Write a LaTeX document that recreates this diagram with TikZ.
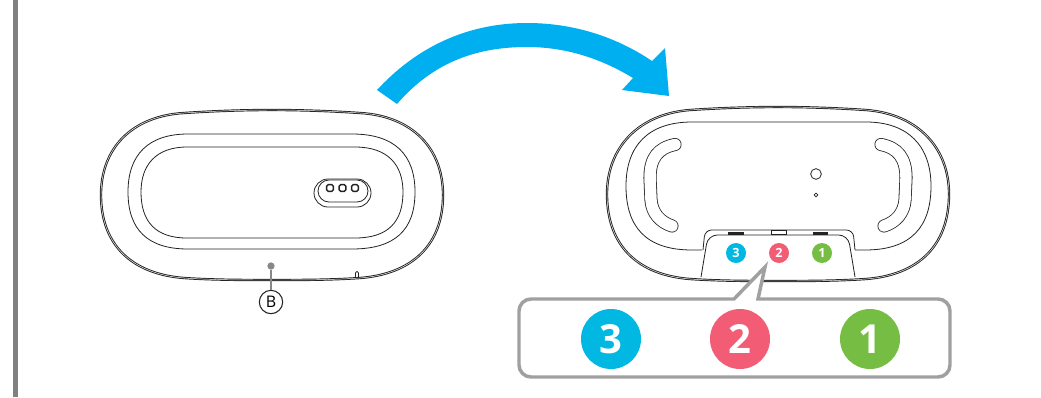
\documentclass[tikz,border=0pt]{standalone}
\usepackage{fontspec}
\setmainfont{Open Sans}
\usetikzlibrary{positioning}
\definecolor{arrowblue}{RGB}{0,175,240}
\definecolor{badgeblue}{RGB}{0,184,225}
\definecolor{badgepink}{RGB}{242,92,117}
\definecolor{badgegreen}{RGB}{118,190,67}
\definecolor{framegray}{RGB}{160,160,160}
\definecolor{bargray}{RGB}{128,128,128}
\definecolor{inkdark}{RGB}{35,35,35}

\begin{document}
\begin{tikzpicture}[
    x=0.75pt,y=-0.75pt,
    shell/.style={draw=inkdark,line width=0.7pt,double=white,double distance=0.35pt},
    ring/.style={draw=inkdark,line width=0.6pt},
    bigbadge/.style={circle,minimum size=45pt,inner sep=0pt,text=white,font=\fontsize{30}{30}\selectfont\bfseries},
    smallbadge/.style={circle,minimum size=15pt,inner sep=0pt,text=white,font=\fontsize{9.5}{10}\selectfont\bfseries},
    pin/.style={draw=inkdark,fill=white,line width=1.1pt,rounded corners=1.2pt,minimum size=5pt,inner sep=0pt},
    slot/.style={fill=inkdark,minimum height=1.6pt,minimum width=11.5pt,inner sep=0pt}
  ]
    \useasboundingbox (0,0) rectangle (1041,397);
    \fill[white] (0,0) rectangle (1041,397);
    \fill[bargray] (13,0) rectangle (18,397);

    % arrow
    \fill[arrowblue] (377,90) .. controls (425,38) and (480,23) .. (527,23)
      .. controls (572,23) and (615,36) .. (652,61) -- (665,48) -- (669,96) -- (622,90) -- (633,78)
      .. controls (600,58) and (565,47) .. (527,47)
      .. controls (480,47) and (435,60) .. (397,104) -- cycle;

    % left device
    \draw[shell] (272,110) .. controls (300,110) and (330,111) .. (360,113)
      .. controls (412,116) and (443,148) .. (443,195)
      .. controls (443,245) and (412,274) .. (360,278)
      .. controls (330,280) and (300,280) .. (272,280)
      .. controls (244,280) and (214,280) .. (184,278)
      .. controls (132,274) and (101,245) .. (101,195)
      .. controls (101,148) and (132,116) .. (184,113)
      .. controls (214,111) and (244,110) .. (272,110) -- cycle;
    \draw[ring] (188,134) -- (352,134) .. controls (395,134) and (415,155) .. (415,192)
      .. controls (415,230) and (395,249) .. (352,249) -- (188,249)
      .. controls (148,249) and (128,230) .. (128,192)
      .. controls (128,155) and (148,134) .. (188,134) -- cycle;
    \draw[ring] (187,147) -- (355,147) .. controls (388,147) and (403,165) .. (403,192)
      .. controls (403,222) and (388,238) .. (355,238) -- (187,238)
      .. controls (156,238) and (141,222) .. (141,192)
      .. controls (141,165) and (156,147) .. (187,147) -- cycle;
    \draw[ring] (328,179) -- (357,179) arc[start angle=-90,end angle=90,radius=14] -- (328,207) arc[start angle=90,end angle=270,radius=14] -- cycle;
    \draw[ring] (329,180) -- (357,180) arc[start angle=-90,end angle=90,radius=11] -- (329,202) arc[start angle=90,end angle=270,radius=11] -- cycle;
    \node[pin] (pina) at (330,188) {};
    \node[pin] (pinb) at (342.5,188) {};
    \node[pin] (pinc) at (355,188) {};
    \draw[ring,rounded corners=1pt] (355.5,278) -- (355.5,271.5) -- (358.5,271.5) -- (358.5,278);

    \node[circle,fill=framegray!85!black,minimum size=5.5pt,inner sep=0pt] (dotb) at (271,266) {};
    \node[circle,draw=inkdark,line width=0.8pt,minimum size=17.5pt,inner sep=0pt,font=\fontsize{12}{12}\selectfont] (labelb) at (271,302) {B};
    \draw[framegray!85!black,line width=1.1pt] (dotb) -- (labelb);

    % right device
    \draw[shell] (778,107) .. controls (806,107) and (836,108) .. (866,110)
      .. controls (918,114) and (949,148) .. (949,194)
      .. controls (949,246) and (918,275) .. (866,279)
      .. controls (836,281) and (806,281) .. (778,281)
      .. controls (750,281) and (720,281) .. (690,279)
      .. controls (638,275) and (607,246) .. (607,194)
      .. controls (607,148) and (638,114) .. (690,110)
      .. controls (720,108) and (750,107) .. (778,107) -- cycle;
    \draw[ring] (702,250) -- (692,250) .. controls (645,250) and (626,226) .. (626,186)
      .. controls (626,146) and (648,122) .. (692,122) -- (866,122)
      .. controls (908,122) and (931,146) .. (931,186)
      .. controls (931,226) and (912,250) .. (865,250) -- (855,250);

    % handles
    \foreach \sx in {1,-1} {
      \begin{scope}[shift={(778,0)},xscale=\sx]
        \draw[inkdark,line width=9.8pt,line cap=round] (-103,144.5) .. controls (-120,148) and (-128,158) .. (-128,178) -- (-127,200) .. controls (-126,213) and (-118,222) .. (-106,226);
        \draw[white,line width=8.6pt,line cap=round] (-103,144.5) .. controls (-120,148) and (-128,158) .. (-128,178) -- (-127,200) .. controls (-126,213) and (-118,222) .. (-106,226);
      \end{scope}
    }
    \node[circle,draw=inkdark,line width=0.6pt,minimum size=8pt,inner sep=0pt] (lens) at (816,174) {};
    \node[circle,draw=inkdark,line width=0.6pt,minimum size=2.8pt,inner sep=0pt] (micro) at (816,195) {};

    % socket
    \draw[ring,fill=white,rounded corners=5pt] (703,250) -- (705,230) -- (853,230) -- (855,250);
    \draw[ring,rounded corners=7pt] (701,277) -- (708,235) -- (848,235) -- (855,277);
    \node[slot] (slotl) at (736,233.5) {};
    \node[slot] (slotr) at (820.5,233.5) {};
    \node[draw=inkdark,fill=white,line width=0.5pt,minimum width=11pt,minimum height=3pt,inner sep=0pt] (slotm) at (778.5,232) {};
    \node[smallbadge,fill=badgeblue] (smallc) at (736,253) {3};
    \node[smallbadge,fill=badgepink] (smallb) at (779,253) {2};
    \node[smallbadge,fill=badgegreen] (smalla) at (822,253) {1};

    % callout
    \filldraw[framegray,fill=white,line width=2.6pt,line join=miter] (734,299) [rounded corners=9pt] -- (519,299) -- (519,377) -- (950,377) -- (950,299) [sharp corners] -- (758,299) -- (765,267) -- cycle;
    \node[bigbadge,fill=badgeblue] (bigc) at (611,339) {3};
    \node[bigbadge,fill=badgepink] (bigb) at (740,339) {2};
    \node[bigbadge,fill=badgegreen] (biga) at (870,339) {1};
  \end{tikzpicture}
\end{document}
